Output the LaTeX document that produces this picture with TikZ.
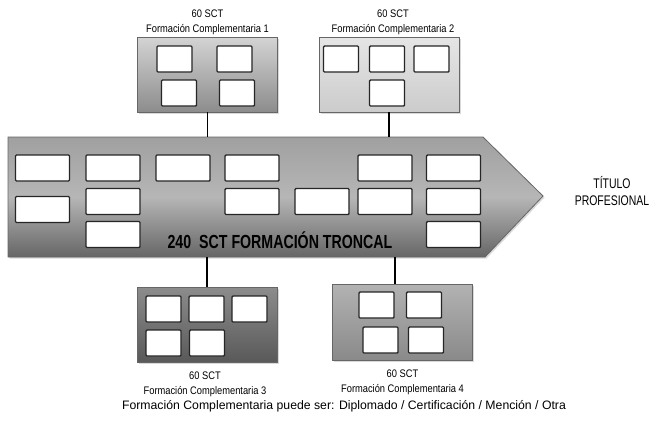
\documentclass[tikz,border=0pt]{standalone}
\usepackage{fontspec}
\setmainfont{Liberation Sans}
\newfontfamily\narrowfont[FakeStretch=0.85]{Liberation Sans}
\newfontfamily\condfont[FakeStretch=0.75]{Liberation Sans}
\usepackage{xcolor}
\usepackage{tikz}
\usetikzlibrary{shadows,positioning}
\definecolor{trunkTop}{HTML}{A0A0A0}
\definecolor{trunkMid}{HTML}{B6B6B6}
\definecolor{trunkBot}{HTML}{666666}
\tikzstyle{group} = [rectangle, draw=black!60, line width=0.8bp, 
    minimum width=140bp, minimum height=75bp, inner sep=0pt,
    drop shadow={shadow xshift=1.5bp, shadow yshift=-1.5bp, opacity=0.3}]
\tikzstyle{cell} = [rectangle, draw=black!85, fill=white, line width=1.4bp, 
    rounded corners=1bp, minimum width=35bp, minimum height=26bp, inner sep=0pt]
\tikzstyle{wide} = [cell, minimum width=54bp]
\tikzstyle{caption} = [font=\narrowfont\fontsize{11}{15}\selectfont, align=center, inner sep=0pt]
\tikzstyle{line} = [draw, line width=1.6bp]

\begin{document}
\begin{tikzpicture}[x=1bp, y=-1bp]
  \useasboundingbox (0,0) rectangle (661,421);
  % trunk
  \coordinate (trunktop) at (8,137);
  \coordinate (trunkbot) at (8,257);
  \path [draw=black!60, line width=0.8bp,
    top color=trunkTop, bottom color=trunkBot, middle color=trunkMid,
    drop shadow={shadow xshift=1.5bp, shadow yshift=-1.5bp, opacity=0.3}]
    (trunktop) -- (483,137) -- (543,196) -- (485,257) -- (trunkbot) -- cycle;
  \node [wide] (t1) at (42.5,168) {};
  \node [wide] (t2) at (113,168) {};
  \node [wide] (t3) at (183,168) {};
  \node [wide] (t4) at (252,168) {};
  \node [wide] (t5) at (385,168) {};
  \node [wide] (t6) at (453.5,168) {};
  \node [wide] (t7) at (42.5,209.5) {};
  \node [wide] (t8) at (113,201.5) {};
  \node [wide] (t9) at (252,201.5) {};
  \node [wide] (t10) at (322,201.5) {};
  \node [wide] (t11) at (385,201.5) {};
  \node [wide] (t12) at (453.5,201.5) {};
  \node [wide] (t13) at (113,234.5) {};
  \node [wide] (t14) at (453.5,234.5) {};
  \node [font=\condfont\bfseries\fontsize{19}{21}\selectfont] (troncal) at (280,240) {240 \ SCT FORMACIÓN TRONCAL};
  \node [font=\condfont\fontsize{14}{18}\selectfont, align=center] (titulo) at (612,191) {TÍTULO\\PROFESIONAL};
  % complementary blocks
  \node [group, top color=black!17, bottom color=black!45] (fc1) at (207.5,74.5) {};
  \node [group, top color=black!10, bottom color=black!20] (fc2) at (389,74.5) {};
  \node [group, top color=black!45, bottom color=black!65] (fc3) at (207,324.5) {};
  \node [group, top color=black!30, bottom color=black!46, minimum height=76bp] (fc4) at (402.5,322) {};
  \node [cell] (c1a) at (174.5,59) {};
  \node [cell] (c1b) at (234.5,59) {};
  \node [cell] (c1c) at (179,93) {};
  \node [cell] (c1d) at (237,93) {};
  \node [cell] (c2a) at (341,59) {};
  \node [cell] (c2b) at (387,59) {};
  \node [cell] (c2c) at (431.5,59) {};
  \node [cell] (c2d) at (387,93) {};
  \node [cell] (c3a) at (163.5,309) {};
  \node [cell] (c3b) at (206.5,309) {};
  \node [cell] (c3c) at (249.5,309) {};
  \node [cell] (c3d) at (163.5,343) {};
  \node [cell] (c3e) at (207,343) {};
  \node [cell] (c4a) at (376.5,305) {};
  \node [cell] (c4b) at (424,305) {};
  \node [cell] (c4c) at (380.5,340) {};
  \node [cell] (c4d) at (426,340) {};
  % captions
  \node [caption, above=1.5bp of fc1] (cap1) {60 SCT\\Formación Complementaria 1};
  \node [caption, above=1.5bp of fc2, xshift=4bp] (cap2) {60 SCT\\Formación Complementaria 2};
  \node [caption, below=9bp of fc3, xshift=-2bp] (cap3) {60 SCT\\Formación Complementaria 3};
  \node [caption, below=9bp of fc4] (cap4) {60 SCT\\Formación Complementaria 4};
  \node [font=\fontsize{12.3}{14}\selectfont] (nota) at (344,406) {Formación Complementaria puede ser: Diplomado / Certificación / Mención / Otra};
  % edges
  \path [line] (fc1) -- (fc1 |- trunktop);
  \path [line] (fc2) -- (fc2 |- trunktop);
  \path [line] (fc3) -- (fc3 |- trunkbot);
  \path [line] ([xshift=-7.5bp]fc4.north) -- ([xshift=-7.5bp]fc4.north |- trunkbot);
\end{tikzpicture}
\end{document}
